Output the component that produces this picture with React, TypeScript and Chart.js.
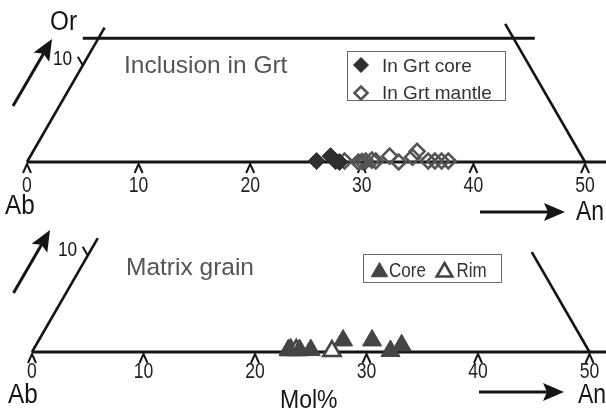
import React, { useEffect, useRef } from "react";
import { Chart, registerables } from "chart.js";
import { drawPoint } from "chart.js/helpers";

Chart.register(...registerables);

// ---------- data ----------
const TICK_VALUES = [0, 10, 20, 30, 40, 50];
const TICK_LABELS = ["0", "10", "20", "30", "40", "50"];
const OR_TICK = 10;
const OR_TICK_LABEL = "10";

// Inclusions in garnet (An mol%, Or mol%)
const GRT_CORE_AN = [25.9, 26.9, 27.6, 28.0];
const GRT_CORE_OR = [0.1, 0.6, 0.1, 0.0];
const GRT_MANTLE_AN = [28.4, 29.7, 30.0, 30.3, 30.8, 31.2, 32.2, 33.3, 34.3, 34.4, 35.9, 36.5, 37.1, 37.7];
const GRT_MANTLE_OR = [0.1, 0.0, 0.05, 0.1, 0.2, 0.1, 0.6, 0.0, 0.5, 1.1, 0.1, 0.1, 0.1, 0.1];

// Matrix grains (An mol%, Or mol%)
const MATRIX_CORE_AN = [22.9, 23.9, 24.9, 27.3, 29.9, 32.1, 32.8];
const MATRIX_CORE_OR = [0.2, 0.2, 0.2, 1.2, 1.2, 0.1, 0.7];
const MATRIX_RIM_AN = [23.1, 23.6, 26.85];
const MATRIX_RIM_OR = [0.2, 0.2, 0.1];

// Diagram frame (An, Or)
const BASE_AN = [0, 54];
const BASE_OR = [0, 0];
const TOP_LEFT_AN = [0, 0];
const TOP_LEFT_OR = [0, 13.9];
const TOP_UPPER_AN = [-1.4, 39.1];
const TOP_UPPER_OR = [12.8, 12.8];
const TOP_RIGHT_AN = [50, 35.7];
const TOP_RIGHT_OR = [0, 14.3];
const BOT_LEFT_AN = [0, 0];
const BOT_LEFT_OR = [0, 11.8];
const BOT_RIGHT_AN = [50, 39.65];
const BOT_RIGHT_OR = [0, 10.35];

// ---------- helpers ----------
const SQ3_2 = Math.sqrt(3) / 2;
const tern = (an: number[], or: number[]) => an.map((a, i) => ({ x: a + or[i] / 2, y: or[i] * SQ3_2 }));
const INK = "#151515";
const FONT = "'Liberation Sans', Arial, Helvetica, sans-serif";

function drawText(ctx: CanvasRenderingContext2D, t: any) {
  ctx.save();
  ctx.font = `${t.size}px ${FONT}`;
  ctx.fillStyle = t.color || INK;
  ctx.textAlign = t.align || "left";
  ctx.textBaseline = t.baseline || "alphabetic";
  ctx.translate(t.x, t.y);
  ctx.scale(t.sx || 1, 1);
  ctx.fillText(t.text, 0, 0);
  ctx.restore();
}

function drawArrow(ctx: CanvasRenderingContext2D, a: number[]) {
  const [x1, y1, x2, y2] = a;
  const len = 21, half = 9, notch = 4;
  const ang = Math.atan2(y2 - y1, x2 - x1);
  const c = Math.cos(ang), s = Math.sin(ang);
  const bx = x2 - len * c, by = y2 - len * s;
  ctx.save();
  ctx.strokeStyle = INK;
  ctx.fillStyle = INK;
  ctx.lineWidth = 3;
  ctx.beginPath();
  ctx.moveTo(x1, y1);
  ctx.lineTo(bx + notch * c, by + notch * s);
  ctx.stroke();
  ctx.beginPath();
  ctx.moveTo(x2, y2);
  ctx.lineTo(bx - half * s, by + half * c);
  ctx.lineTo(bx + notch * c, by + notch * s);
  ctx.lineTo(bx + half * s, by - half * c);
  ctx.closePath();
  ctx.fill();
  ctx.restore();
}

const frameDs = (an: number[], or: number[], w: number) => ({
  data: tern(an, or),
  showLine: true,
  borderColor: INK,
  backgroundColor: INK,
  borderWidth: w,
  pointRadius: 0,
  pointHoverRadius: 0,
  fill: false,
  order: 5,
});

const coreDiamond = {
  pointStyle: "rectRot",
  pointRadius: 8.5,
  backgroundColor: "#2e2e2e",
  borderColor: "#2e2e2e",
  borderWidth: 1,
};
const mantleDiamond = {
  pointStyle: "rectRot",
  pointRadius: 7.5,
  backgroundColor: "rgba(0,0,0,0)",
  borderColor: "#555555",
  borderWidth: 2.6,
};
const coreTri = {
  pointStyle: "triangle",
  pointRadius: 11,
  backgroundColor: "#444444",
  borderColor: "#444444",
  borderWidth: 1,
};
const rimTri = {
  pointStyle: "triangle",
  pointRadius: 10,
  backgroundColor: "#ffffff",
  borderColor: "#444444",
  borderWidth: 2.6,
};

// ---------- panels ----------
const TOP = {
  top: 0,
  height: 226,
  xMin: -27 / 11.16,
  xMax: -27 / 11.16 + 606 / 11.16,
  yMax: 162 / 11.16,
  yMin: 162 / 11.16 - 226 / 11.16,
  labelOffset: 24,
  datasets: [
    { label: "In Grt core", data: tern(GRT_CORE_AN, GRT_CORE_OR), ...coreDiamond, order: 0 },
    { label: "In Grt mantle", data: tern(GRT_MANTLE_AN, GRT_MANTLE_OR), ...mantleDiamond, order: 1 },
    frameDs(BASE_AN, BASE_OR, 3.2),
    frameDs(TOP_LEFT_AN, TOP_LEFT_OR, 2.6),
    frameDs(TOP_UPPER_AN, TOP_UPPER_OR, 3),
    frameDs(TOP_RIGHT_AN, TOP_RIGHT_OR, 2.6),
  ],
  texts: [
    { text: "Or", x: 50, y: 30, size: 27, sx: 0.9 },
    { text: OR_TICK_LABEL, x: 53, y: 65, size: 21, sx: 0.82 },
    { text: "Inclusion in Grt", x: 124, y: 73, size: 24.5, color: "#555555" },
    { text: "Ab", x: 5, y: 214, size: 27, sx: 0.9 },
    { text: "An", x: 576, y: 220, size: 27, sx: 0.85 },
  ],
  arrows: [
    [13, 106, 52, 39],
    [480, 212, 565, 212],
  ],
  legend: {
    box: [347.5, 51.5, 158, 49],
    items: [
      { ds: 0, mx: 361, my: 65, r: 7.5, tx: 382, ty: 72, text: "In Grt core" },
      { ds: 1, mx: 361, my: 93, r: 6.5, tx: 382, ty: 99, text: "In Grt mantle" },
    ],
    size: 19,
    sx: 1,
  },
};

const BOTTOM = {
  top: 200,
  height: 210,
  xMin: -32 / 11.15,
  xMax: -32 / 11.15 + 606 / 11.15,
  yMax: 152 / 11.15,
  yMin: 152 / 11.15 - 210 / 11.15,
  labelOffset: 19.5,
  datasets: [
    { label: "Core", data: tern(MATRIX_CORE_AN, MATRIX_CORE_OR), ...coreTri, order: 0 },
    { label: "Rim", data: tern(MATRIX_RIM_AN, MATRIX_RIM_OR), ...rimTri, order: 1 },
    frameDs(BASE_AN, BASE_OR, 3.2),
    frameDs(BOT_LEFT_AN, BOT_LEFT_OR, 2.6),
    frameDs(BOT_RIGHT_AN, BOT_RIGHT_OR, 2.6),
  ],
  texts: [
    { text: OR_TICK_LABEL, x: 58, y: 56, size: 21, sx: 0.82 },
    { text: "Matrix grain", x: 126, y: 75, size: 24.5, color: "#555555" },
    { text: "Ab", x: 8, y: 203, size: 27, sx: 0.9 },
    { text: "Mol%", x: 280, y: 208, size: 25, sx: 0.92 },
    { text: "An", x: 578, y: 203, size: 27, sx: 0.85 },
  ],
  arrows: [
    [13.5, 93, 50, 30],
    [479, 192, 564, 192],
  ],
  legend: {
    box: [363.5, 54.5, 138, 28],
    items: [
      { ds: 0, mx: 379.5, my: 72, r: 9.5, tx: 389, ty: 77, text: "Core" },
      { ds: 1, mx: 444.5, my: 72, r: 9, tx: 456.5, ty: 77, text: "Rim" },
    ],
    size: 20,
    sx: 0.85,
  },
};

function makeOverlay(spec: any) {
  return {
    id: "overlay",
    beforeDatasetsDraw(chart: any) {
      const ctx: CanvasRenderingContext2D = chart.ctx;
      const xs = chart.scales.x, ys = chart.scales.y;
      const y0 = ys.getPixelForValue(0);
      ctx.save();
      ctx.strokeStyle = INK;
      ctx.lineWidth = 2;
      TICK_VALUES.forEach((t) => {
        const px = xs.getPixelForValue(t);
        ctx.beginPath();
        ctx.moveTo(px - 4, y0 + 11);
        ctx.lineTo(px, y0 + 2);
        ctx.lineTo(px + 4, y0 + 11);
        ctx.stroke();
      });
      // Or tick on the Ab-Or edge
      const [p, q] = tern([0, -0.9], [OR_TICK, OR_TICK + 0.9]);
      ctx.beginPath();
      ctx.moveTo(xs.getPixelForValue(p.x), ys.getPixelForValue(p.y));
      ctx.lineTo(xs.getPixelForValue(q.x), ys.getPixelForValue(q.y));
      ctx.stroke();
      ctx.restore();
    },
    afterDraw(chart: any) {
      const ctx: CanvasRenderingContext2D = chart.ctx;
      const xs = chart.scales.x, ys = chart.scales.y;
      const y0 = ys.getPixelForValue(0);
      TICK_VALUES.forEach((t, i) => {
        drawText(ctx, {
          text: TICK_LABELS[i],
          x: xs.getPixelForValue(t),
          y: y0 + spec.labelOffset,
          size: 22,
          sx: 0.8,
          align: "center",
          baseline: "middle",
          color: "#222222",
        });
      });
      spec.texts.forEach((t: any) => drawText(ctx, t));
      spec.arrows.forEach((a: number[]) => drawArrow(ctx, a));
      // legend
      const lg = spec.legend;
      ctx.save();
      ctx.strokeStyle = "#6a6a6a";
      ctx.lineWidth = 1;
      ctx.strokeRect(lg.box[0], lg.box[1], lg.box[2], lg.box[3]);
      ctx.restore();
      lg.items.forEach((it: any) => {
        const ds = chart.data.datasets[it.ds];
        ctx.save();
        ctx.fillStyle = ds.backgroundColor;
        ctx.strokeStyle = ds.borderColor;
        ctx.lineWidth = ds.borderWidth;
        drawPoint(ctx, { pointStyle: ds.pointStyle, radius: it.r, rotation: 0, borderWidth: ds.borderWidth } as any, it.mx, it.my);
        ctx.restore();
        drawText(ctx, { text: it.text, x: it.tx, y: it.ty, size: lg.size, sx: lg.sx, color: "#333333" });
      });
    },
  };
}

function Panel({ spec }: { spec: any }) {
  const ref = useRef<HTMLCanvasElement>(null);
  useEffect(() => {
    const chart = new Chart(ref.current as HTMLCanvasElement, {
      type: "scatter",
      data: { datasets: spec.datasets },
      options: {
        animation: false,
        responsive: false,
        maintainAspectRatio: false,
        devicePixelRatio: 1,
        events: [],
        layout: { padding: 0, autoPadding: false },
        elements: { line: { tension: 0 } },
        scales: {
          x: { type: "linear", display: false, bounds: "data", min: spec.xMin, max: spec.xMax },
          y: { type: "linear", display: false, bounds: "data", min: spec.yMin, max: spec.yMax },
        },
        plugins: { legend: { display: false }, tooltip: { enabled: false } },
      } as any,
      plugins: [makeOverlay(spec)],
    });
    return () => chart.destroy();
  }, [spec]);
  return (
    <canvas
      ref={ref}
      width={606}
      height={spec.height}
      style={{ position: "absolute", left: 0, top: spec.top, width: 606, height: spec.height, display: "block" }}
    />
  );
}

export default function App() {
  return (
    <div style={{ position: "fixed", left: 0, top: 0, width: 606, height: 410, background: "#ffffff", overflow: "hidden" }}>
      <Panel spec={TOP} />
      <Panel spec={BOTTOM} />
    </div>
  );
}
